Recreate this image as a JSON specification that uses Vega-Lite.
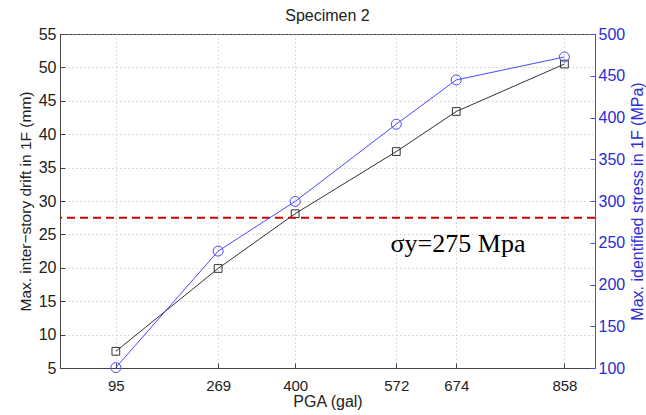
{
  "$schema": "https://vega.github.io/schema/vega-lite/v6.json",
  "width": 535,
  "height": 334,
  "autosize": {"type": "none"},
  "padding": {"left": 60, "top": 34, "right": 51, "bottom": 47},
  "background": "white",
  "title": {"text": "Specimen 2", "fontSize": 16, "fontWeight": "normal", "font": "Liberation Sans", "color": "#222", "offset": 2},
  "config": {
    "view": {"stroke": "#444", "strokeWidth": 1},
    "axis": {"labelFont": "Liberation Sans", "titleFont": "Liberation Sans", "labelFontSize": 16, "titleFontSize": 15.5, "titleFontWeight": "normal", "labelColor": "#222", "titleColor": "#222", "domainColor": "#444", "tickColor": "#444", "gridColor": "#bbb", "gridDash": [1, 3], "labelOverlap": false, "labelFlush": false}
  },
  "datasets": {
    "main": [
      {"pga": 95, "drift": 7.5, "stress": 100.5},
      {"pga": 269, "drift": 19.9, "stress": 240},
      {"pga": 400, "drift": 28.1, "stress": 299.5},
      {"pga": 572, "drift": 37.4, "stress": 392},
      {"pga": 674, "drift": 43.4, "stress": 445},
      {"pga": 858, "drift": 50.5, "stress": 472.5}
    ],
    "note": [{"pga": 677, "drift": 23.6, "label": "σy=275 Mpa"}],
    "limit": [{"drift": 27.5}]
  },
  "layer": [
    {
      "data": {"name": "main"},
      "layer": [
        {
          "mark": {"type": "line", "color": "#333", "strokeWidth": 1},
          "encoding": {
            "x": {"field": "pga", "type": "quantitative", "scale": {"domain": [0, 910], "nice": false}, "axis": {"values": [95, 269, 400, 572, 674, 858], "title": "PGA (gal)", "titleFontSize": 16, "labelFontSize": 15, "grid": true, "tickSize": -5, "labelPadding": 15, "titlePadding": 0, "labelOverlap": false}},
            "y": {"field": "drift", "type": "quantitative", "scale": {"domain": [5, 55], "nice": false, "zero": false}, "axis": {"values": [5, 10, 15, 20, 25, 30, 35, 40, 45, 50, 55], "title": "Max. inter−story drift in 1F (mm)", "grid": true, "tickSize": -5, "labelPadding": 9, "titlePadding": 5, "labelOverlap": false, "labelBound": false}}
          }
        },
        {
          "mark": {"type": "point", "shape": "square", "filled": false, "color": "#333", "strokeWidth": 1, "size": 60, "opacity": 1},
          "encoding": {
            "x": {"field": "pga", "type": "quantitative", "axis": {"values": [95, 269, 400, 572, 674, 858], "title": "PGA (gal)", "titleFontSize": 16, "labelFontSize": 15, "grid": true, "tickSize": -5, "labelPadding": 15, "titlePadding": 0, "labelOverlap": false}},
            "y": {"field": "drift", "type": "quantitative", "axis": {"values": [5, 10, 15, 20, 25, 30, 35, 40, 45, 50, 55], "title": "Max. inter−story drift in 1F (mm)", "grid": true, "tickSize": -5, "labelPadding": 9, "titlePadding": 5, "labelOverlap": false, "labelBound": false}}
          }
        },
        {
          "data": {"name": "limit"},
          "mark": {"type": "rule", "color": "#cc0000", "strokeWidth": 2, "strokeDash": [8, 5]},
          "encoding": {"y": {"field": "drift", "type": "quantitative", "axis": {"values": [5, 10, 15, 20, 25, 30, 35, 40, 45, 50, 55], "title": "Max. inter−story drift in 1F (mm)", "grid": true, "tickSize": -5, "labelPadding": 9, "titlePadding": 5, "labelOverlap": false, "labelBound": false}}}
        },
        {
          "data": {"name": "note"},
          "mark": {"type": "text", "font": "Liberation Serif", "fontSize": 26, "color": "#000", "align": "center", "baseline": "middle"},
          "encoding": {
            "x": {"field": "pga", "type": "quantitative", "axis": {"values": [95, 269, 400, 572, 674, 858], "title": "PGA (gal)", "titleFontSize": 16, "labelFontSize": 15, "grid": true, "tickSize": -5, "labelPadding": 15, "titlePadding": 0, "labelOverlap": false}},
            "y": {"field": "drift", "type": "quantitative", "axis": {"values": [5, 10, 15, 20, 25, 30, 35, 40, 45, 50, 55], "title": "Max. inter−story drift in 1F (mm)", "grid": true, "tickSize": -5, "labelPadding": 9, "titlePadding": 5, "labelOverlap": false, "labelBound": false}},
            "text": {"field": "label"}
          }
        }
      ]
    },
    {
      "data": {"name": "main"},
      "layer": [
        {
          "mark": {"type": "line", "color": "#4a4aff", "strokeWidth": 1},
          "encoding": {
            "x": {"field": "pga", "type": "quantitative", "axis": {"values": [95, 269, 400, 572, 674, 858], "title": "PGA (gal)", "titleFontSize": 16, "labelFontSize": 15, "grid": true, "tickSize": -5, "labelPadding": 15, "titlePadding": 0, "labelOverlap": false}},
            "y": {"field": "stress", "type": "quantitative", "scale": {"domain": [100, 500], "nice": false, "zero": false}, "axis": {"orient": "right", "values": [100, 150, 200, 250, 300, 350, 400, 450, 500], "title": "Max. identified stress in 1F (MPa)", "titleFontSize": 16, "grid": false, "tickSize": -5, "labelPadding": 8, "titleAngle": 270, "titleBaseline": "top", "titlePadding": 5, "labelOverlap": false, "labelColor": "#2b2bd9", "titleColor": "#2b2bd9", "domainColor": "#4a4aff", "tickColor": "#4a4aff"}}
          }
        },
        {
          "mark": {"type": "point", "shape": "circle", "filled": false, "color": "#4a4aff", "strokeWidth": 1, "size": 100, "opacity": 1},
          "encoding": {
            "x": {"field": "pga", "type": "quantitative", "axis": {"values": [95, 269, 400, 572, 674, 858], "title": "PGA (gal)", "titleFontSize": 16, "labelFontSize": 15, "grid": true, "tickSize": -5, "labelPadding": 15, "titlePadding": 0, "labelOverlap": false}},
            "y": {"field": "stress", "type": "quantitative", "axis": {"orient": "right", "values": [100, 150, 200, 250, 300, 350, 400, 450, 500], "title": "Max. identified stress in 1F (MPa)", "titleFontSize": 16, "grid": false, "tickSize": -5, "labelPadding": 8, "titleAngle": 270, "titleBaseline": "top", "titlePadding": 5, "labelOverlap": false, "labelColor": "#2b2bd9", "titleColor": "#2b2bd9", "domainColor": "#4a4aff", "tickColor": "#4a4aff"}}
          }
        }
      ]
    }
  ],
  "resolve": {"scale": {"y": "independent"}}
}
